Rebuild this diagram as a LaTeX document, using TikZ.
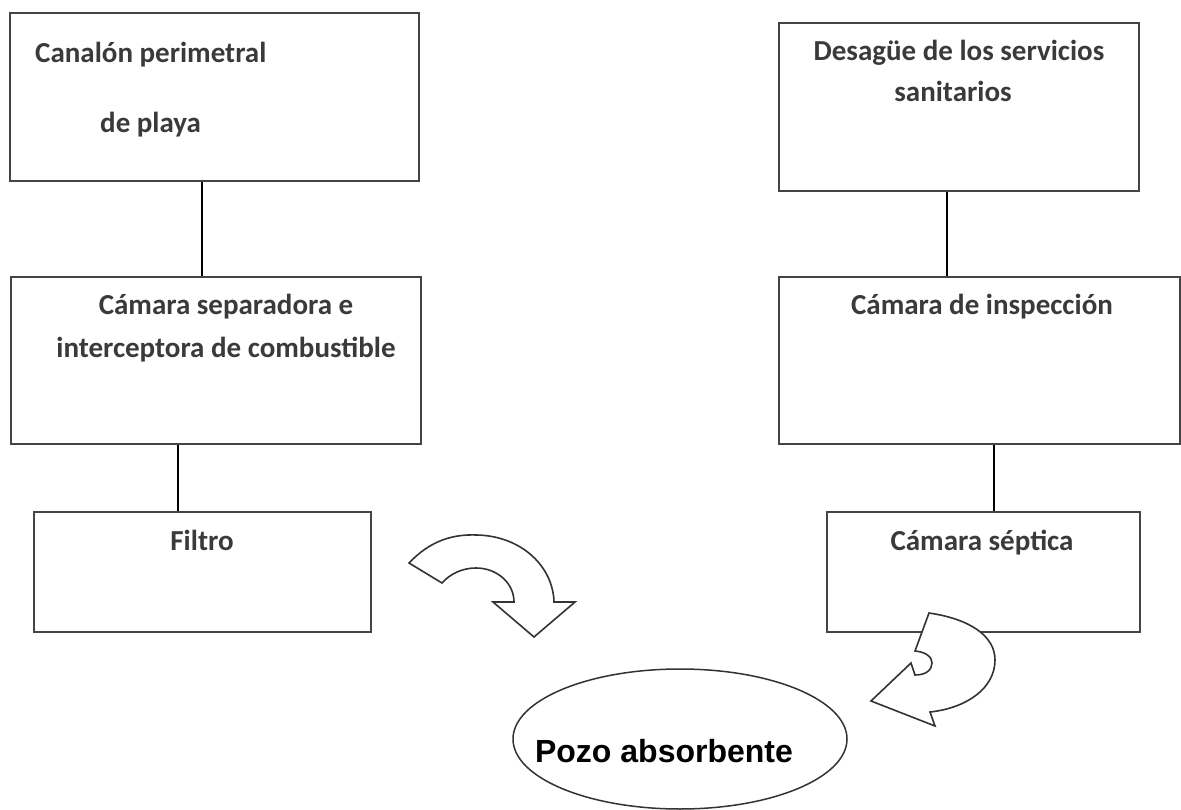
\documentclass[tikz,border=0pt]{standalone}
\usepackage{fontspec}
\setmainfont{Carlito}
\newfontfamily\arialfont{Liberation Sans}
\usetikzlibrary{shapes.geometric}
\definecolor{boxgray}{RGB}{68,68,68}
\definecolor{textgray}{RGB}{58,58,58}
\definecolor{arrowgray}{RGB}{51,51,51}
\begin{document}
\begin{tikzpicture}[x=1pt,y=-1pt,
  box/.style={draw=boxgray, line width=1.8pt, fill=white, inner sep=0pt, anchor=north west},
  link/.style={draw=black, line width=2.6pt},
  lbl/.style={font=\fontsize{29}{35}\selectfont\bfseries, text=textgray, inner sep=0pt},
  bendarrow/.style={draw=arrowgray, line width=1.6pt, fill=white, line join=miter}]
\fill[white] (0,0) rectangle (1181,810);
\useasboundingbox (0,0) rectangle (1181,810);
% boxes
\node[box, minimum width=409pt, minimum height=168pt] (canal) at (9,12) {};
\node[box, minimum width=410pt, minimum height=167pt] (camsep) at (10,276) {};
\node[box, minimum width=337pt, minimum height=120pt] (filtro) at (33,511) {};
\node[box, minimum width=360pt, minimum height=168pt] (desag) at (778,22) {};
\node[box, minimum width=401pt, minimum height=167pt] (insp) at (778,276) {};
\node[box, minimum width=313pt, minimum height=120pt] (septica) at (826,511) {};
% connectors
\draw[link] (canal.south -| 202,0) -- (camsep.north -| 202,0);
\draw[link] (camsep.south -| 178,0) -- (filtro.north -| 178,0);
\draw[link] (desag.south -| 947,0) -- (insp.north -| 947,0);
\draw[link] (insp.south -| 994,0) -- (septica.north -| 994,0);
% labels
\node[lbl, anchor=base west] (t1a) at (35,63) {Canalón perimetral};
\node[lbl, anchor=base west] (t1b) at (100,133) {de playa};
\node[lbl, anchor=base] (t2a) at (226,315) {Cámara separadora e};
\node[lbl, anchor=base] (t2b) at (226,357) {interceptora de combustible};
\node[lbl, anchor=base] (t3) at (202,550) {Filtro};
\node[lbl, anchor=base] (t4a) at (959,61) {Desagüe de los servicios};
\node[lbl, anchor=base] (t4b) at (953,102) {sanitarios};
\node[lbl, anchor=base] (t5) at (982,315) {Cámara de inspección};
\node[lbl, anchor=base] (t6) at (982,550) {Cámara séptica};
% curved arrows
\draw[bendarrow] (409,563) .. controls (430,541) and (452,534) .. (477,535)
  .. controls (521,536) and (553,566) .. (554,602) -- (575,602) -- (534,637)
  -- (493,602) -- (514,602) .. controls (514,583) and (497,568) .. (476,568)
  .. controls (462,568) and (450,574) .. (442,583) -- cycle;
\draw[bendarrow] (929,613) -- (915,651) .. controls (926,652) and (932,657) .. (932,663)
  .. controls (932,670) and (926,675) .. (915,675) -- (911,663) -- (871,701)
  -- (935,726) -- (930,712) .. controls (967,708) and (995,688) .. (995,660)
  .. controls (995,636) and (970,619) .. (929,613) -- cycle;
% ellipse
\node[draw=arrowgray, line width=1.5pt, ellipse, minimum width=334pt, minimum height=140pt, inner sep=0pt] (pozo) at (680,739) {};
\node[font={\arialfont\fontsize{32}{38}\selectfont\bfseries}, anchor=base, inner sep=0pt] (tpozo) at (664,762) {Pozo absorbente};
\end{tikzpicture}
\end{document}
